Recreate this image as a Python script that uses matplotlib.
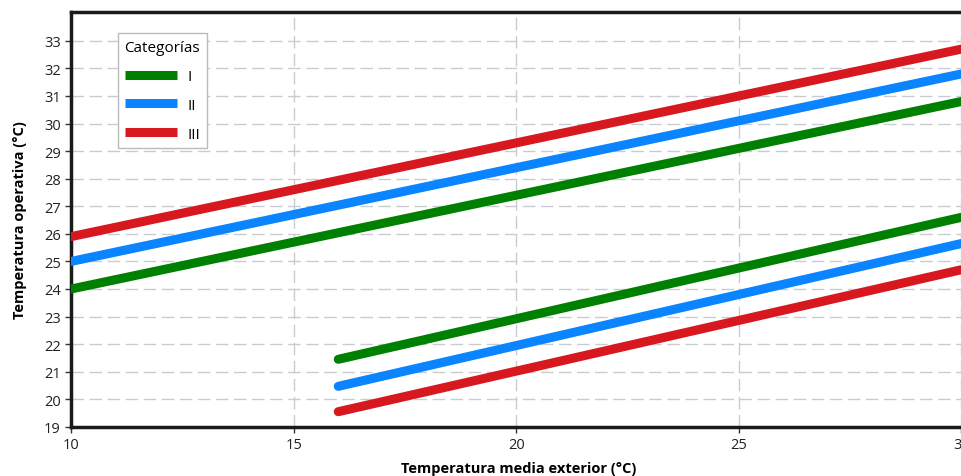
import matplotlib.pyplot as plt

# Data (endpoints of straight lines)
x_upper = [10, 30]
x_lower = [16, 30]
upper_I = [24.0, 30.8]
upper_II = [25.0, 31.8]
upper_III = [25.9, 32.7]
lower_I = [21.45, 26.6]
lower_II = [20.47, 25.65]
lower_III = [19.55, 24.7]

labels = ["I", "II", "III"]
colors = ["#008000", "#0a84ff", "#d7191f"]

plt.rcParams['font.family'] = ['Open Sans', 'DejaVu Sans']

fig = plt.figure(figsize=(9.62, 4.77), dpi=100)
ax = fig.add_axes([0.074, 0.103, 0.93, 0.870])

uppers = [upper_I, upper_II, upper_III]
lowers = [lower_I, lower_II, lower_III]
for up, lo, lab, col in zip(uppers, lowers, labels, colors):
    ax.plot(x_upper, up, color=col, lw=6.5, solid_capstyle='round', label=lab, zorder=3)
    ax.plot(x_lower, lo, color=col, lw=6.5, solid_capstyle='round', zorder=3)

ax.set_xlim(10, 30.1)
ax.set_ylim(19, 34.05)
ax.set_xticks([10, 15, 20, 25, 30])
ax.set_yticks(range(19, 34))
ax.tick_params(labelsize=10.5, length=4, width=1, color='#333333', labelcolor='#222222')
ax.grid(True, color='#c8ccd2', lw=1, linestyle=(0, (9, 4)))
ax.set_axisbelow(True)

for s in ['left', 'bottom', 'top']:
    ax.spines[s].set_linewidth(2.5)
    ax.spines[s].set_color('#1a1a1a')
ax.spines['right'].set_visible(False)

ax.set_xlabel("Temperatura media exterior (°C)", fontsize=10.5, fontweight='bold', labelpad=6)
ax.set_ylabel("Temperatura operativa (°C)", fontsize=10.5, fontweight='bold', labelpad=12)

leg = ax.legend(title="Categorías", loc='upper left', bbox_to_anchor=(0.052, 0.948),
                borderaxespad=0, fancybox=False, edgecolor='#bbbbbb', framealpha=1,
                fontsize=11, title_fontsize=11, handlelength=3.4, handletextpad=0.7,
                labelspacing=0.9, borderpad=0.45)
leg.get_frame().set_linewidth(1)
for h in leg.legend_handles:
    h.set_solid_capstyle('butt')

fig.savefig("out.png", dpi=100)
